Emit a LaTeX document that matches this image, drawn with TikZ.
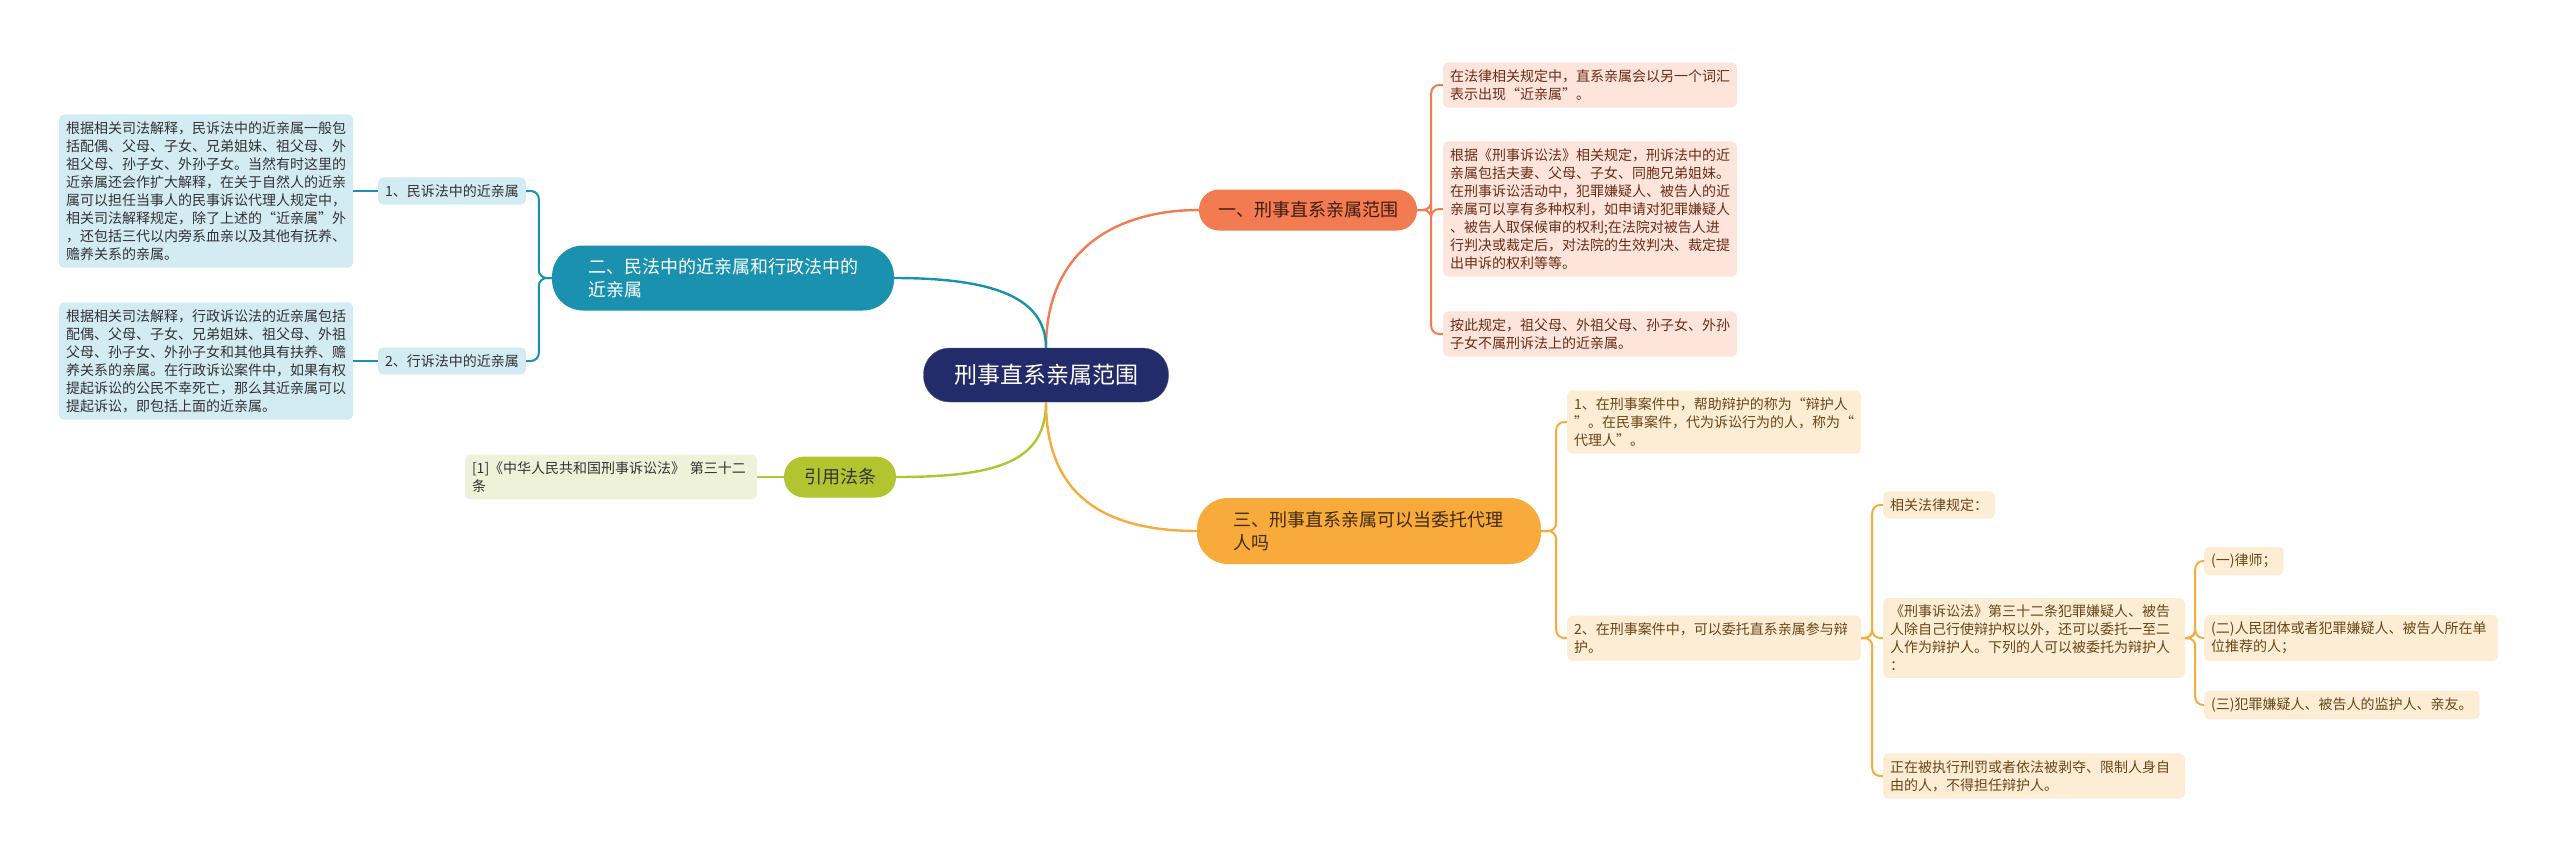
\documentclass[tikz,border=0pt]{standalone}
\usepackage{fontspec}
\setmainfont{Noto Sans CJK SC}
\usepackage{tikz}
\definecolor{cNavy}{HTML}{232B6B}
\definecolor{cCoral}{HTML}{F27B52}
\definecolor{cTeal}{HTML}{1A91AE}
\definecolor{cOlive}{HTML}{B2C530}
\definecolor{cAmber}{HTML}{F8AA3B}
\definecolor{cCoralLeaf}{HTML}{FDE5DC}
\definecolor{cTealLeaf}{HTML}{D3EBF2}
\definecolor{cOliveLeaf}{HTML}{EEF2D9}
\definecolor{cAmberLeaf}{HTML}{FDEDD5}
\definecolor{cCoralText}{HTML}{6B2C17}
\definecolor{cAmberText}{HTML}{6B4616}
\definecolor{cGrayText}{HTML}{333333}

\begin{document}
\begin{tikzpicture}[x=1pt, y=-1pt,
  rootbox/.style={fill=cNavy, draw=cNavy!80!white, text=white, rounded corners=26pt, minimum width=245pt, minimum height=54pt, font=\fontsize{23}{28}\selectfont},
  topicbox/.style={fill=#1, rounded corners=20pt, minimum height=41pt, inner xsep=19pt, font=\fontsize{18}{23}\selectfont},
  leafbox/.style={fill=#1, rounded corners=5pt, inner xsep=7pt, inner ysep=7pt, align=left, font=\fontsize{14}{18}\selectfont},
  link/.style={draw=#1, line width=2.4pt},
  twig/.style={draw=#1, line width=2pt, rounded corners=8pt}]
\useasboundingbox (0,0) rectangle (2560,862);
%root
\node[rootbox] (crime) at (1046,375) {刑事直系亲属范围};
%topics
\node[topicbox=cCoral, text=cCoralText!60!black] (scope) at (1308,210) {一、刑事直系亲属范围};
\node[topicbox=cTeal, text=white, align=left, text width=270pt, inner xsep=36pt, minimum height=65pt, rounded corners=31pt] (civil) at (723,278) {二、民法中的近亲属和行政法中的\\近亲属};
\node[topicbox=cOlive, text=cGrayText, inner xsep=20pt] (cite) at (840,477) {引用法条};
\node[topicbox=cAmber, text=cAmberText!60!black, align=left, text width=272pt, inner xsep=36pt, minimum height=66pt, rounded corners=31pt] (agent) at (1369,531) {三、刑事直系亲属可以当委托代理\\人吗};
%leaves (one)
\node[leafbox=cCoralLeaf, text=cCoralText, text width=280pt] (scopeA) at (1590,85) {在法律相关规定中，直系亲属会以另一个词汇\\表示出现“近亲属”。};
\node[leafbox=cCoralLeaf, text=cCoralText, text width=280pt] (scopeB) at (1590,209) {根据《刑事诉讼法》相关规定，刑诉法中的近\\亲属包括夫妻、父母、子女、同胞兄弟姐妹。\\在刑事诉讼活动中，犯罪嫌疑人、被告人的近\\亲属可以享有多种权利，如申请对犯罪嫌疑人\\、被告人取保候审的权利;在法院对被告人进\\行判决或裁定后，对法院的生效判决、裁定提\\出申诉的权利等等。};
\node[leafbox=cCoralLeaf, text=cCoralText, text width=280pt] (scopeC) at (1590,334) {按此规定，祖父母、外祖父母、孙子女、外孙\\子女不属刑诉法上的近亲属。};
%leaves (two)
\node[leafbox=cTealLeaf, text=cGrayText] (civilA) at (452,191) {1、民诉法中的近亲属};
\node[leafbox=cTealLeaf, text=cGrayText] (civilB) at (452,361) {2、行诉法中的近亲属};
\node[leafbox=cTealLeaf, text=cGrayText, text width=280pt] (civilAtxt) at (206,191) {根据相关司法解释，民诉法中的近亲属一般包\\括配偶、父母、子女、兄弟姐妹、祖父母、外\\祖父母、孙子女、外孙子女。当然有时这里的\\近亲属还会作扩大解释，在关于自然人的近亲\\属可以担任当事人的民事诉讼代理人规定中，\\相关司法解释规定，除了上述的“近亲属”外\\，还包括三代以内旁系血亲以及其他有抚养、\\赡养关系的亲属。};
\node[leafbox=cTealLeaf, text=cGrayText, text width=280pt] (civilBtxt) at (206,361) {根据相关司法解释，行政诉讼法的近亲属包括\\配偶、父母、子女、兄弟姐妹、祖父母、外祖\\父母、孙子女、外孙子女和其他具有扶养、赡\\养关系的亲属。在行政诉讼案件中，如果有权\\提起诉讼的公民不幸死亡，那么其近亲属可以\\提起诉讼，即包括上面的近亲属。};
%leaves (cite)
\node[leafbox=cOliveLeaf, text=cGrayText, text width=278pt] (citeA) at (611,477) {[1]《中华人民共和国刑事诉讼法》 第三十二\\条};
%leaves (three)
\node[leafbox=cAmberLeaf, text=cAmberText, text width=280pt] (agentA) at (1714,422) {1、在刑事案件中，帮助辩护的称为“辩护人\\”。在民事案件，代为诉讼行为的人，称为“\\代理人”。};
\node[leafbox=cAmberLeaf, text=cAmberText, text width=280pt] (agentB) at (1714,638) {2、在刑事案件中，可以委托直系亲属参与辩\\护。};
\node[leafbox=cAmberLeaf, text=cAmberText] (lawA) at (1939,505) {相关法律规定：};
\node[leafbox=cAmberLeaf, text=cAmberText, text width=288pt] (lawB) at (2034,638) {《刑事诉讼法》第三十二条犯罪嫌疑人、被告\\人除自己行使辩护权以外，还可以委托一至二\\人作为辩护人。下列的人可以被委托为辩护人\\：};
\node[leafbox=cAmberLeaf, text=cAmberText, text width=288pt] (lawC) at (2034,776) {正在被执行刑罚或者依法被剥夺、限制人身自\\由的人，不得担任辩护人。};
\node[leafbox=cAmberLeaf, text=cAmberText, anchor=west] (kindA) at (2204,561) {(一)律师；};
\node[leafbox=cAmberLeaf, text=cAmberText, text width=280pt, anchor=west] (kindB) at (2204,638) {(二)人民团体或者犯罪嫌疑人、被告人所在单\\位推荐的人；};
\node[leafbox=cAmberLeaf, text=cAmberText, anchor=west] (kindC) at (2204,705) {(三)犯罪嫌疑人、被告人的监护人、亲友。};
%links
\draw[link=cCoral] (crime.north) .. controls +(0,-100) and +(-80,0) .. (scope.west);
\draw[link=cTeal] (crime.north) .. controls +(0,-50) and +(100,0) .. (civil.east);
\draw[link=cOlive] (crime.south) .. controls +(0,60) and +(100,0) .. (cite.east);
\draw[link=cAmber] (crime.south) .. controls +(0,95) and +(-90,0) .. (agent.west);
%twigs
\foreach \leaf in {scopeA,scopeB,scopeC} \draw[twig=cCoral] (scope.east) -- ++(14,0) |- (\leaf.west);
\foreach \leaf in {civilA,civilB} \draw[twig=cTeal] (civil.west) -- ++(-13,0) |- (\leaf.east);
\draw[twig=cTeal] (civilA.west) -- (civilAtxt.east);
\draw[twig=cTeal] (civilB.west) -- (civilBtxt.east);
\draw[twig=cOlive] (cite.west) -- (citeA.east);
\foreach \leaf in {agentA,agentB} \draw[twig=cAmber] (agent.east) -- ++(15,0) |- (\leaf.west);
\foreach \leaf in {lawA,lawB,lawC} \draw[twig=cAmber] (agentB.east) -- ++(11,0) |- (\leaf.west);
\foreach \leaf in {kindA,kindB,kindC} \draw[twig=cAmber] (lawB.east) -- ++(10,0) |- (\leaf.west);
\end{tikzpicture}
\end{document}
